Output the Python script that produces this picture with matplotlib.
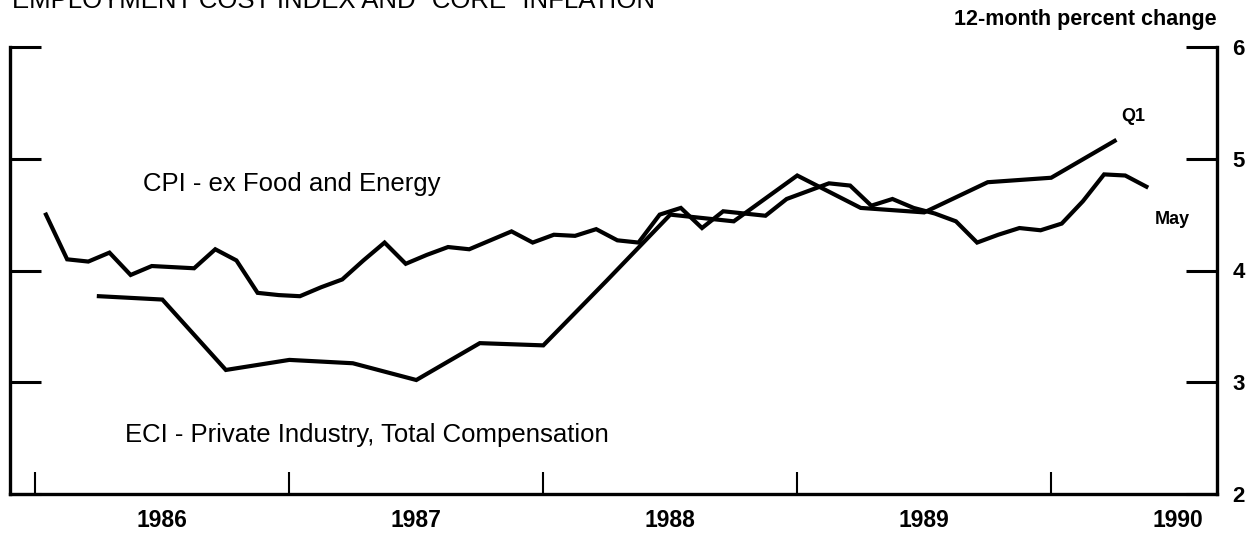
"""
Employment cost index and "core" inflation, 12-month percent change.
"""

import matplotlib
matplotlib.use('Agg')
import matplotlib.pyplot as plt
import numpy as np

plt.rcParams['font.family'] = ['Liberation Sans', 'DejaVu Sans']

# CPI ex food and energy, monthly, Jan 1986 - May 1990.
cpi_start = (1986, 1)
cpi_values = [
    4.50, 4.10, 4.08, 4.16, 3.96, 4.04, 4.03, 4.02, 4.19, 4.09, 3.80, 3.78,  # 1986
    3.77, 3.85, 3.92, 4.09, 4.25, 4.06, 4.14, 4.21, 4.19, 4.27, 4.35, 4.25,  # 1987
    4.32, 4.31, 4.37, 4.27, 4.25, 4.50, 4.56, 4.38, 4.53, 4.51, 4.49, 4.64,  # 1988
    4.71, 4.78, 4.76, 4.58, 4.64, 4.56, 4.51, 4.44, 4.25, 4.32, 4.38, 4.36,  # 1989
    4.42, 4.62, 4.86, 4.85, 4.75,                                            # 1990
]

# ECI private industry total compensation, quarterly, Q1 1986 - Q1 1990.
eci_start = (1986, 1)
eci_values = [
    3.77, 3.74, 3.11, 3.20,
    3.17, 3.02, 3.35, 3.33,
    3.91, 4.50, 4.44, 4.85,
    4.56, 4.52, 4.79, 4.83,
    5.16,
]

years = [1986, 1987, 1988, 1989, 1990]
right_ticks = [2, 3, 4, 5, 6]

title = 'EMPLOYMENT COST INDEX AND "CORE" INFLATION'
units = '12-month percent change'
cpi_label = 'CPI - ex Food and Energy'
eci_label = 'ECI - Private Industry, Total Compensation'

# Monthly points at mid-month, quarterly points at end of quarter.
cpi_x = cpi_start[0] + (cpi_start[1] - 0.5) / 12 + np.arange(len(cpi_values)) / 12
eci_x = eci_start[0] + eci_start[1] * 0.25 + np.arange(len(eci_values)) * 0.25

W, H = 1252, 533
fig = plt.figure(figsize=(W / 100, H / 100), dpi=100)
ax = fig.add_axes([10 / W, 1 - 494 / H, (1217 - 10) / W, (494 - 47) / H])

ax.plot(cpi_x, cpi_values, color='black', lw=3, solid_joinstyle='miter')
ax.plot(eci_x, eci_values, color='black', lw=3, solid_joinstyle='miter')

ax.set_xlim(1985.9, 1990.653)
ax.set_ylim(2, 6)

for side in ['left', 'right', 'bottom']:
    ax.spines[side].set_linewidth(2.4)
ax.spines['top'].set_visible(False)

# y ticks on both sides, labels on the right only
ax.set_yticks(right_ticks)
ax.set_yticklabels([str(t) for t in right_ticks])
ax.tick_params(axis='y', which='major', direction='in', length=22, width=2.2,
               left=True, right=True, labelleft=False, labelright=True, pad=11,
               labelsize=16)
for lab in ax.get_yticklabels():
    lab.set_fontweight('bold')

# x ticks at year boundaries, labels at mid-year
ax.set_xticks(years)
ax.set_xticklabels([])
ax.set_xticks([y + 0.5 for y in years], minor=True)
ax.set_xticklabels([str(y) for y in years], minor=True)
ax.tick_params(axis='x', which='major', direction='in', length=16, width=1.5)
ax.tick_params(axis='x', which='minor', length=0, pad=11, labelsize=16.5)
for lab in ax.get_xticklabels(minor=True):
    lab.set_fontweight('bold')

# Series labels.
ax.text(1986.423, 4.711, cpi_label, fontsize=18.5, va='baseline', ha='left')
ax.text(1986.352, 2.465, eci_label, fontsize=18.5, va='baseline', ha='left')
ax.text(1990.323, 5.374, 'Q1', fontsize=13, fontweight='bold', ha='center', va='center')
ax.text(1990.476, 4.452, 'May', fontsize=13, fontweight='bold', ha='center', va='center')

fig.text(12 / W, 1 - 8 / H, title, fontsize=18.5, va='baseline', ha='left')
fig.text(1217 / W, 1 - 20 / H, units, fontsize=15.5, fontweight='bold',
         va='center', ha='right')

fig.savefig('out.png', dpi=100)
